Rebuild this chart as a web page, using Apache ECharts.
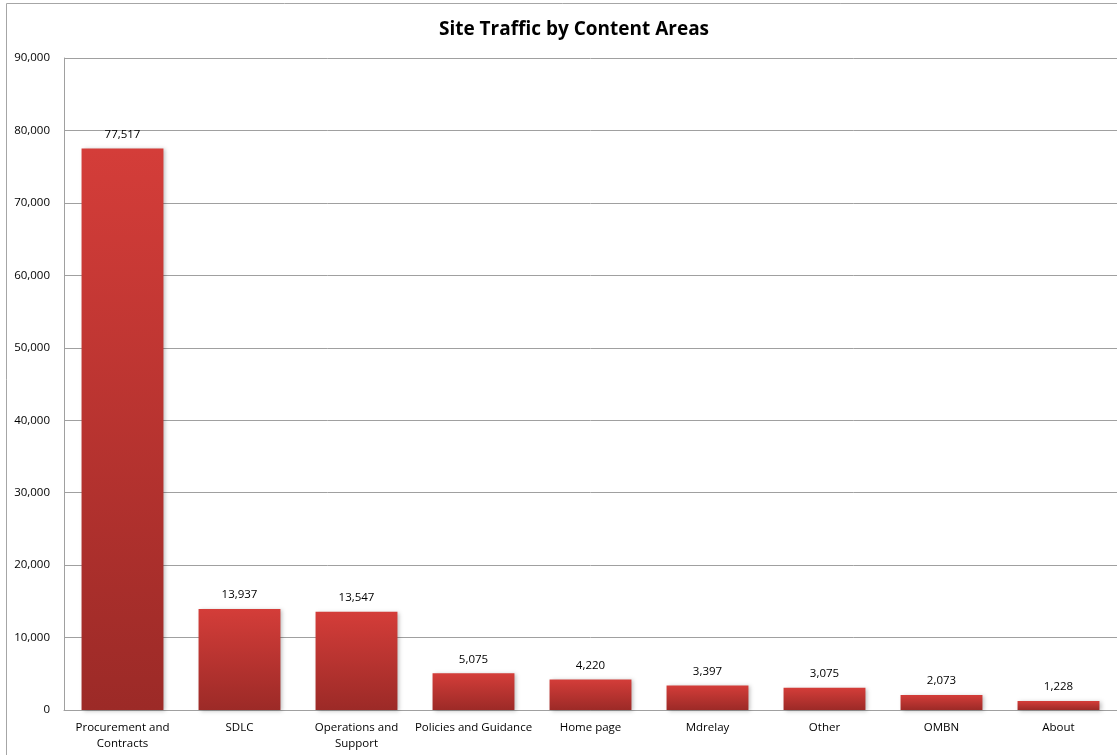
<!DOCTYPE html>
<html><head><meta charset="utf-8">
<script src="https://cdn.jsdelivr.net/npm/echarts@6/dist/echarts.min.js"></script>
<style>html,body{margin:0;padding:0;background:#fff}#c{width:1117px;height:755px}</style>
</head><body><div id="c"></div>
<script>
const categories = ["Procurement and\nContracts","SDLC","Operations and\nSupport","Policies and Guidance","Home page","Mdrelay","Other","OMBN","About"];
const visits = [77517,13937,13547,5075,4220,3397,3075,2073,1228];
const yTicks = {min:0,max:90000,interval:10000};
const chart = echarts.init(document.getElementById('c'));
const font = "'Open Sans', 'Noto Sans', sans-serif";
chart.setOption({
  animation:false,
  graphic:[{type:'rect',shape:{x:6.5,y:3.5,width:1200,height:800},style:{fill:'none',stroke:'#a6a6a6',lineWidth:1}}],
  title:{text:'Site Traffic by Content Areas',left:569,top:15,textAlign:'center',textStyle:{fontFamily:font,fontSize:19,fontWeight:'bold',color:'#000'}},
  grid:{left:64,right:0,top:58,bottom:45,containLabel:false},
  xAxis:{type:'category',data:categories,
    axisLine:{lineStyle:{color:'#a0a0a0'}},axisTick:{show:false},
    axisLabel:{interval:0,color:'#000',fontFamily:font,fontSize:11.5,lineHeight:16,margin:10}},
  yAxis:{type:'value',min:yTicks.min,max:yTicks.max,interval:yTicks.interval,
    axisLine:{show:true,lineStyle:{color:'#a0a0a0'}},axisTick:{show:false},
    splitLine:{lineStyle:{color:'#a0a0a0'}},
    axisLabel:{color:'#000',fontFamily:font,fontSize:11.5,margin:14,formatter:v=>v.toLocaleString('en-US')}},
  series:[{type:'bar',data:visits,barCategoryGap:'30%',
    itemStyle:{color:new echarts.graphic.LinearGradient(0,0,0,1,[{offset:0,color:'#d43d39'},{offset:1,color:'#9c2a27'}]),
      shadowColor:'rgba(0,0,0,0.25)',shadowBlur:4,shadowOffsetX:2,shadowOffsetY:1},
    label:{show:true,position:'top',distance:8,color:'#000',fontFamily:font,fontSize:11.5,formatter:p=>p.value.toLocaleString('en-US')}}]
});
</script></body></html>
